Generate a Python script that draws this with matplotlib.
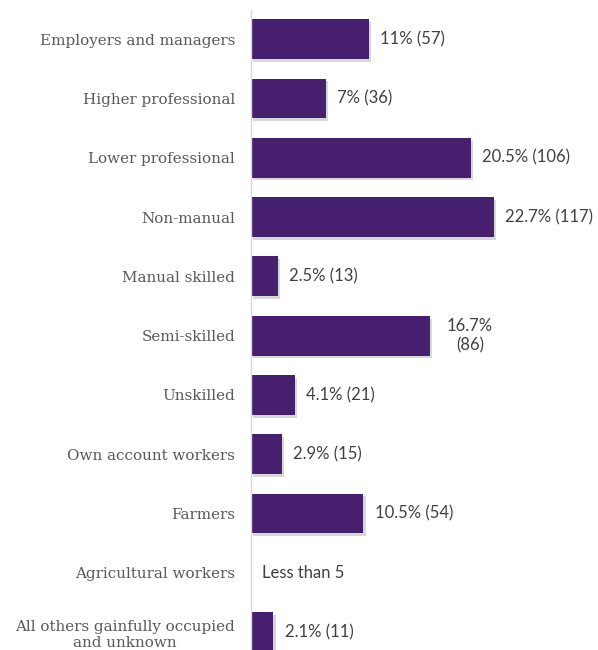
import numpy as np
import matplotlib.pyplot as plt
import matplotlib.patheffects as pe

categories = [
    'Employers and managers',
    'Higher professional',
    'Lower professional',
    'Non-manual',
    'Manual skilled',
    'Semi-skilled',
    'Unskilled',
    'Own account workers',
    'Farmers',
    'Agricultural workers',
    'All others gainfully occupied\nand unknown',
]
percent = [11.0, 7.0, 20.5, 22.7, 2.5, 16.7, 4.1, 2.9, 10.5, 0.0, 2.1]
labels = [
    '11% (57)', '7% (36)', '20.5% (106)', '22.7% (117)', '2.5% (13)',
    '16.7%\n(86)', '4.1% (21)', '2.9% (15)', '10.5% (54)', 'Less than 5', '2.1% (11)',
]

bar_color = '#46206f'

fig = plt.figure(figsize=(5.98, 6.5), dpi=100)
ax = fig.add_axes([251 / 598, 0.0, 347 / 598, 640 / 650])

y = np.arange(len(categories))
bars = ax.barh(y, percent, height=0.67, color=bar_color)
for b in bars:
    b.set_path_effects([pe.SimplePatchShadow(offset=(1.5, -2), shadow_rgbFace='#aaaaaa', alpha=0.45),
                        pe.Normal()])

for yi, v, lab in zip(y, percent, labels):
    gap = 1.6 if '\n' in lab else 1.05
    ax.text(v + gap, yi, lab, va='center', ha='left', multialignment='center',
            fontsize=12, family='Lato', color='#404040')

ax.set_xlim(0, 32.4)
ax.set_ylim(10.30, -0.49)
ax.set_yticks(y)
ax.set_yticklabels(categories, fontsize=10.9, family='DejaVu Serif', color='#595959',
                   multialignment='center', linespacing=1.25)
ax.tick_params(axis='y', length=0, pad=11.5)
ax.set_xticks([])
for s in ['top', 'right', 'bottom']:
    ax.spines[s].set_visible(False)
ax.spines['left'].set_color('#d9d9d9')
ax.spines['left'].set_linewidth(1.0)

fig.savefig('out.png', dpi=100)
